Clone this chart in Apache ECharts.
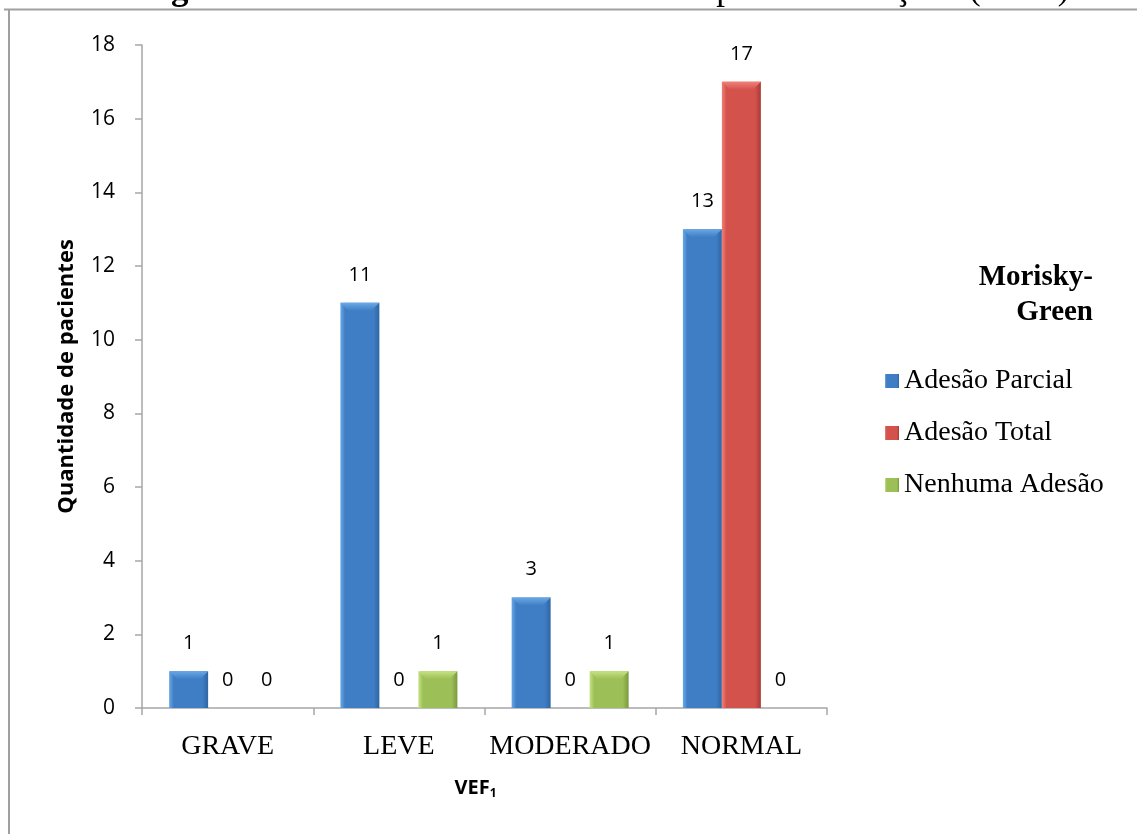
<!DOCTYPE html>
<html>
<head>
<meta charset="utf-8">
<script src="https://cdn.jsdelivr.net/npm/echarts@6/dist/echarts.min.js"></script>
<style>
  html, body { margin: 0; padding: 0; background: #fff; }
  #chart { width: 1137px; height: 834px; }
</style>
</head>
<body>
<div id="chart"></div>
<script>
// VEF1 severity groups and patient counts per Morisky-Green adherence class
const categories = ['GRAVE', 'LEVE', 'MODERADO', 'NORMAL'];
const seriesNames = ['Adesão Parcial', 'Adesão Total', 'Nenhuma Adesão'];
const adesaoParcial = [1, 11, 3, 13];
const adesaoTotal = [0, 0, 0, 17];
const nenhumaAdesao = [0, 1, 1, 0];
const yTicks = { min: 0, max: 18, interval: 2 };

const seriesValues = [adesaoParcial, adesaoTotal, nenhumaAdesao];

// base, light and dark shades for each series
const palette = [
  { base: '#3f7ec4', light: '#6aa8e6', dark: '#2f65a3' },
  { base: '#d4524c', light: '#f08078', dark: '#a83a36' },
  { base: '#9dbf58', light: '#c6e283', dark: '#7a9a3c' }
];

const BAR_W = 39;
const SANS = '"Open Sans", "Noto Sans", sans-serif';
const SERIF = '"Liberation Serif", "DejaVu Serif", serif';

function barFill(p) {
  return new echarts.graphic.LinearGradient(0, 0, 1, 0, [
    { offset: 0, color: p.light },
    { offset: 0.12, color: p.base },
    { offset: 0.85, color: p.base },
    { offset: 1, color: p.dark }
  ]);
}

const barSeries = seriesNames.map((name, i) => ({
  name: name,
  type: 'bar',
  barWidth: BAR_W,
  barGap: '0%',
  data: seriesValues[i],
  itemStyle: { color: barFill(palette[i]) },
  label: {
    show: true,
    position: 'top',
    distance: 18,
    fontFamily: SANS,
    fontSize: 20,
    color: '#000'
  },
  z: 2
}));

// bevelled cap on top of every non-zero bar
const bevelData = [];
seriesValues.forEach((vals, s) => {
  vals.forEach((v, c) => { if (v > 0) bevelData.push([c, v, s]); });
});

const bevelSeries = {
  type: 'custom',
  silent: true,
  z: 3,
  data: bevelData,
  renderItem: function (params, api) {
    const c = api.value(0), v = api.value(1), s = api.value(2);
    const top = api.coord([c, v]);
    const x = top[0] + (s - 1) * BAR_W - BAR_W / 2;
    const y = top[1];
    const b = 8;
    const p = palette[s];
    return {
      type: 'polygon',
      shape: { points: [[x, y], [x + BAR_W, y], [x + BAR_W - b, y + b], [x + b, y + b]] },
      style: {
        fill: new echarts.graphic.LinearGradient(0, 0, 0, 1, [
          { offset: 0, color: p.light },
          { offset: 1, color: p.base }
        ])
      }
    };
  },
  encode: { x: 0, y: 1 }
};

const chart = echarts.init(document.getElementById('chart'));
chart.setOption({
  animation: false,
  backgroundColor: '#fff',
  grid: { left: 142, right: 310, top: 45, bottom: 126, containLabel: false },
  legend: {
    data: seriesNames,
    orient: 'vertical',
    left: 880,
    top: 362,
    itemGap: 24,
    itemWidth: 14,
    itemHeight: 14,
    icon: 'rect',
    textStyle: { fontFamily: SERIF, fontSize: 28, color: '#000' }
  },
  xAxis: {
    type: 'category',
    data: categories,
    axisLine: { lineStyle: { color: '#a6a6a6', width: 1.5 } },
    axisTick: { show: true, length: 7, lineStyle: { color: '#a6a6a6', width: 1.5 } },
    axisLabel: { fontFamily: SERIF, fontSize: 28, color: '#000', margin: 25, interval: 0, hideOverlap: false },
    name: '{a|VEF}{s|1}',
    nameLocation: 'middle',
    nameGap: 68,
    nameTextStyle: {
      padding: [0, 18, 0, 0],
      rich: {
        a: { fontFamily: SANS, fontWeight: 'bold', fontSize: 20, color: '#000' },
        s: { fontFamily: SANS, fontWeight: 'bold', fontSize: 12, color: '#000', verticalAlign: 'bottom', padding: [12, 0, 0, 0] }
      }
    }
  },
  yAxis: {
    type: 'value',
    min: yTicks.min,
    max: yTicks.max,
    interval: yTicks.interval,
    splitLine: { show: false },
    axisLine: { show: true, lineStyle: { color: '#a6a6a6', width: 1.5 } },
    axisTick: { show: true, length: 7, lineStyle: { color: '#a6a6a6', width: 1.5 } },
    axisLabel: { fontFamily: SANS, fontSize: 21, color: '#000', margin: 27 },
    name: 'Quantidade de pacientes',
    nameLocation: 'middle',
    nameRotate: 90,
    nameGap: 64,
    nameTextStyle: { fontFamily: SANS, fontWeight: 'bold', fontSize: 22, color: '#000' }
  },
  graphic: [
    // frame around the figure
    { type: 'line', shape: { x1: 4, y1: 9.5, x2: 1137, y2: 9.5 }, style: { stroke: '#a0a0a0', lineWidth: 2 }, silent: true },
    { type: 'line', shape: { x1: 9, y1: 9, x2: 9, y2: 834 }, style: { stroke: '#a0a0a0', lineWidth: 2 }, silent: true },
    // figure caption, partly above the page edge
    {
      type: 'text',
      x: 140,
      y: -28,
      style: {
        text: '{b|Figura 06:} {r|Demonstrativo do Volume Expiratório Forçado (VEF}{s|1}{r|) e a }{i|adesão.}',
        rich: {
          b: { fontFamily: SERIF, fontWeight: 'bold', fontSize: 35, fill: '#000' },
          r: { fontFamily: SERIF, fontSize: 35, fill: '#000' },
          i: { fontFamily: SERIF, fontStyle: 'italic', fontSize: 35, fill: '#000' },
          s: { fontFamily: SERIF, fontSize: 22, fill: '#000' }
        }
      }
    },
    // legend heading
    {
      type: 'text',
      x: 1093,
      y: 260,
      style: {
        text: 'Morisky-\nGreen',
        align: 'right',
        fontFamily: SERIF,
        fontWeight: 'bold',
        fontSize: 29,
        lineHeight: 35,
        fill: '#000'
      }
    }
  ],
  series: barSeries.concat([bevelSeries])
});
</script>
</body>
</html>
